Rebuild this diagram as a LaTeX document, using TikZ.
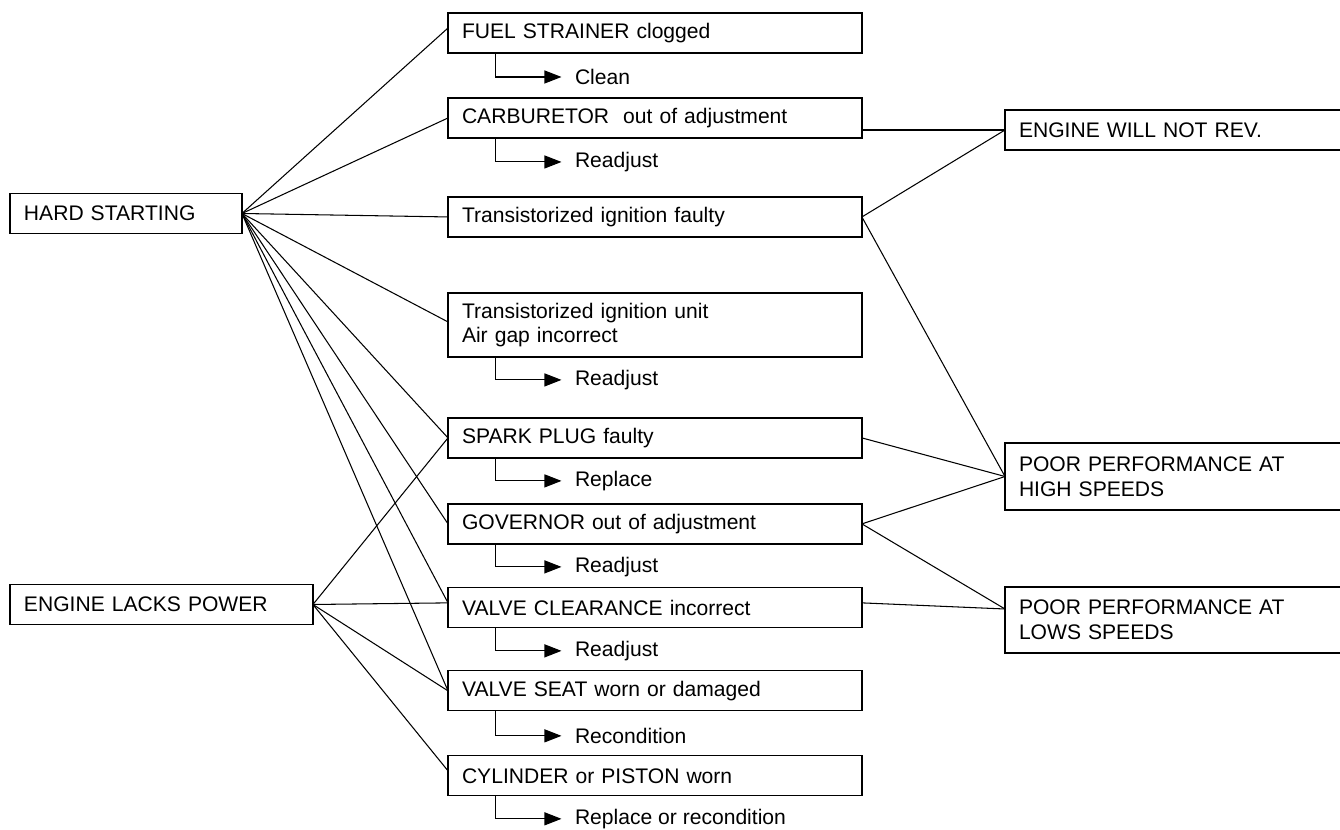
\documentclass[tikz,border=0pt]{standalone}
\usepackage{fontspec}
\setmainfont{Liberation Sans}
\usetikzlibrary{positioning,arrows.meta}

\begin{document}
\begin{tikzpicture}[
  x=0.02cm, y=-0.02cm,
  box/.style={rectangle, draw, line width=0.7pt, inner xsep=0.28cm,
    inner ysep=2pt, outer sep=0pt, minimum height=0.8cm, align=left,
    font=\fontsize{12}{14}\selectfont},
  cause/.style={box, text width=7.72cm},
  symptom/.style={box, text width=6.44cm},
  act/.style={anchor=west, inner sep=0pt, xshift=0.26cm,
    font=\fontsize{12}{14}\selectfont},
  fix/.style={-{Triangle[length=0.34cm, width=0.26cm]}, line width=0.6pt},
  link/.style={line width=0.6pt}
]
\useasboundingbox (0,0) rectangle (1340,830);

% ── Symptoms (left) ──
\node[box, text width=4.08cm, anchor=west] (hard) at (10,213.5) {HARD STARTING};
\node[box, text width=5.5cm, anchor=west]  (lacks) at (10,604.5) {ENGINE LACKS POWER};

% ── Causes (middle) ──
\node[cause, anchor=north west] (strainer) at (448,13) {FUEL STRAINER clogged};
\node[cause, below=0.9cm of strainer] (carb) {CARBURETOR\ \ out of adjustment};
\node[cause, below=1.18cm of carb]    (ign)  {Transistorized ignition faulty};
\node[cause, below=1.12cm of ign, minimum height=1.28cm] (gap)
  {Transistorized ignition unit\\Air gap incorrect};
\node[cause, below=1.22cm of gap]     (plug) {SPARK PLUG faulty};
\node[cause, below=0.92cm of plug]    (gov)  {GOVERNOR out of adjustment};
\node[cause, below=0.88cm of gov]     (valve) {VALVE CLEARANCE incorrect};
\node[cause, below=0.86cm of valve]   (seat) {VALVE SEAT worn or damaged};
\node[cause, below=0.9cm of seat]     (cyl)  {CYLINDER or PISTON worn};

% ── Symptoms (right) ──
\node[symptom, anchor=west] (norev) at (1005,130) {ENGINE WILL NOT REV.};
\node[symptom, anchor=west, minimum height=1.34cm] (high) at (1005,476.5)
  {POOR PERFORMANCE AT\\HIGH SPEEDS};
\node[symptom, anchor=west, minimum height=1.32cm] (low) at (1005,620)
  {POOR PERFORMANCE AT\\LOWS SPEEDS};

% ── Remedies ──
\draw[fix] ([xshift=0.95cm]strainer.south west) |- ++(1.32cm,-0.48cm)
  node[act] (strainerfix) {Clean};
\draw[fix] ([xshift=0.95cm]carb.south west) |- ++(1.32cm,-0.48cm)
  node[act] (carbfix) {Readjust};
\draw[fix] ([xshift=0.95cm]gap.south west) |- ++(1.32cm,-0.46cm)
  node[act] (gapfix) {Readjust};
\draw[fix] ([xshift=0.95cm]plug.south west) |- ++(1.32cm,-0.46cm)
  node[act] (plugfix) {Replace};
\draw[fix] ([xshift=0.95cm]gov.south west) |- ++(1.32cm,-0.46cm)
  node[act] (govfix) {Readjust};
\draw[fix] ([xshift=0.95cm]valve.south west) |- ++(1.32cm,-0.46cm)
  node[act] (valvefix) {Readjust};
\draw[fix] ([xshift=0.95cm]seat.south west) |- ++(1.32cm,-0.5cm)
  node[act] (seatfix) {Recondition};
\draw[fix] ([xshift=0.95cm]cyl.south west) |- ++(1.32cm,-0.46cm)
  node[act] (cylfix) {Replace or recondition};

% ── Hard starting links ──
\draw[link] (hard.east) -- ([yshift=0.1cm]strainer.west);
\draw[link] (hard.east) -- (carb.west);
\draw[link] (hard.east) -- (ign.west);
\draw[link] (hard.east) -- ([yshift=0.06cm]gap.west);
\draw[link] (hard.east) -- (plug.west);
\draw[link] (hard.east) -- (gov.west);
\draw[link] (hard.east) -- ([yshift=0.1cm]valve.west);
\draw[link] (hard.east) -- (seat.west);

% ── Lack of power links ──
\draw[link] (lacks.east) -- (plug.west);
\draw[link] (lacks.east) -- ([yshift=0.1cm]valve.west);
\draw[link] (lacks.east) -- (seat.west);
\draw[link] (lacks.east) -- ([yshift=0.1cm]cyl.west);

% ── Right-hand links ──
\draw[link] (norev.west -| carb.east) -- (norev.west);
\draw[link] (ign.east) -- (norev.west);
\draw[link] (ign.east) -- (high.west);
\draw[link] (plug.east) -- (high.west);
\draw[link] (gov.east) -- (high.west);
\draw[link] (gov.east) -- ([yshift=0.22cm]low.west);
\draw[link] ([yshift=0.1cm]valve.east) -- ([yshift=0.22cm]low.west);

\end{tikzpicture}
\end{document}
